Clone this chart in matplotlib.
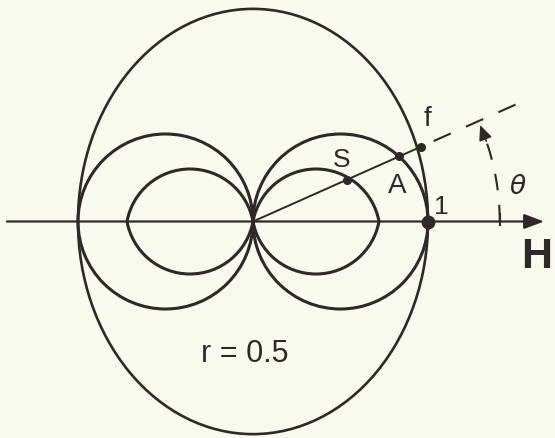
import numpy as np
import matplotlib
matplotlib.use('Agg')
import matplotlib.pyplot as plt
from matplotlib.patches import Arc, Ellipse, Circle

# values (unit = point "1" on the H axis)
ray_angle = 24.0                  # degrees, direction of S-A-f ray
outer_half = [1.0, 1.215]         # outer oval half width / half height
big_radius = 0.5                  # two circles through the origin
lens_tip = 0.72                   # inner loops: tip on the axis
lens_height = 0.30                # inner loops: max height
ray_points = {'S': 0.59, 'A': 0.915, 'f': 1.05}
ray_end = 1.66                    # end of the dashed extension
theta_radius = 1.41               # dashed angle arc
theta_end = 23.0
axis_range = [-1.406, 1.663]
r_value = 0.5

ink = '#2d2926'
paper = '#f8f9ef'

fig = plt.figure(figsize=(5.55, 4.38), dpi=100, facecolor=paper)
ax = fig.add_axes([0, 0, 1, 1])
ax.set_facecolor(paper)
ax.set_xlim(-253 / 175, 302 / 175)
ax.set_ylim(-216.5 / 175, 221.5 / 175)
ax.set_aspect('equal')
ax.axis('off')

# outer oval
ax.add_patch(Ellipse((0, 0), 2 * outer_half[0], 2 * outer_half[1], fill=False, ec=ink, lw=1.9))

# big circles
for side in (-1, 1):
    ax.add_patch(Circle((side * big_radius, 0), big_radius, fill=False, ec=ink, lw=2.2))

# inner lens-shaped loops, each side made of two circular arcs
xc = lens_tip / 2
yc = (lens_height ** 2 - xc ** 2) / (2 * lens_height)
R = lens_height - yc
a0 = np.degrees(np.arctan2(-yc, xc))
for side in (-1, 1):
    cx = side * xc
    if side == 1:
        ax.add_patch(Arc((cx, yc), 2 * R, 2 * R, theta1=a0, theta2=180 - a0, ec=ink, lw=2.2))
        ax.add_patch(Arc((cx, -yc), 2 * R, 2 * R, theta1=180 + a0, theta2=360 - a0, ec=ink, lw=2.2))
    else:
        ax.add_patch(Arc((cx, yc), 2 * R, 2 * R, theta1=a0, theta2=180 - a0, ec=ink, lw=2.2))
        ax.add_patch(Arc((cx, -yc), 2 * R, 2 * R, theta1=180 + a0, theta2=360 - a0, ec=ink, lw=2.2))

# H axis with arrow
ax.annotate('', xy=(axis_range[1], 0), xytext=(axis_range[0], 0),
            arrowprops=dict(arrowstyle='-|>,head_length=1.2,head_width=0.45', color=ink, lw=1.6,
                            shrinkA=0, shrinkB=0))

# ray from origin through S, A, f
t = np.radians(ray_angle)
ux, uy = np.cos(t), np.sin(t)
ax.plot([0, ray_points['f'] * ux], [0, ray_points['f'] * uy], color=ink, lw=1.4)
ax.plot([ray_points['f'] * ux + 0.08 * ux, ray_end * ux], [ray_points['f'] * uy + 0.08 * uy, ray_end * uy],
        color=ink, lw=1.5, linestyle=(0, (9, 8)))
for name, rr in ray_points.items():
    ax.plot(rr * ux, rr * uy, 'o', color=ink, ms=5.5)
ax.plot(1.0, 0, 'o', color=ink, ms=9)

# angle arc
ax.add_patch(Arc((0, 0), 2 * theta_radius, 2 * theta_radius, theta1=0, theta2=theta_end - 3,
                 ec=ink, lw=1.5, linestyle=(0, (8, 7))))
te = np.radians(theta_end)
ts = np.radians(theta_end - 4)
ax.annotate('', xy=(theta_radius * np.cos(te), theta_radius * np.sin(te)),
            xytext=(theta_radius * np.cos(ts), theta_radius * np.sin(ts)),
            arrowprops=dict(arrowstyle='-|>,head_length=0.9,head_width=0.4', color=ink, lw=1.2,
                            shrinkA=0, shrinkB=0))
ax.plot([theta_radius, theta_radius], [-0.02, 0.045], color=ink, lw=1.5)

font = dict(family='Liberation Sans', color=ink)
ax.text((342 - 253) / 175, (221.5 - 160) / 175, 'S', fontsize=19, ha='center', va='center', **font)
ax.text((397 - 253) / 175, (221.5 - 186) / 175, 'A', fontsize=20, ha='center', va='center', **font)
ax.text((427 - 253) / 175, (221.5 - 119) / 175, 'f', fontsize=20, ha='center', va='center', **font)
ax.text((441 - 253) / 175, (221.5 - 207) / 175, '1', fontsize=19, ha='center', va='center', **font)
ax.text((518 - 253) / 175, (221.5 - 187) / 175, r'$\theta$', fontsize=19, ha='center', va='center', color=ink)
ax.text((537 - 253) / 175, (221.5 - 257) / 175, 'H', fontsize=31, fontweight='bold', ha='center', va='center', **font)
ax.text((245 - 253) / 175, (221.5 - 354) / 175, f'r = {r_value}', fontsize=22, ha='center', va='center', **font)

fig.savefig('out.png', dpi=100, facecolor=paper)
